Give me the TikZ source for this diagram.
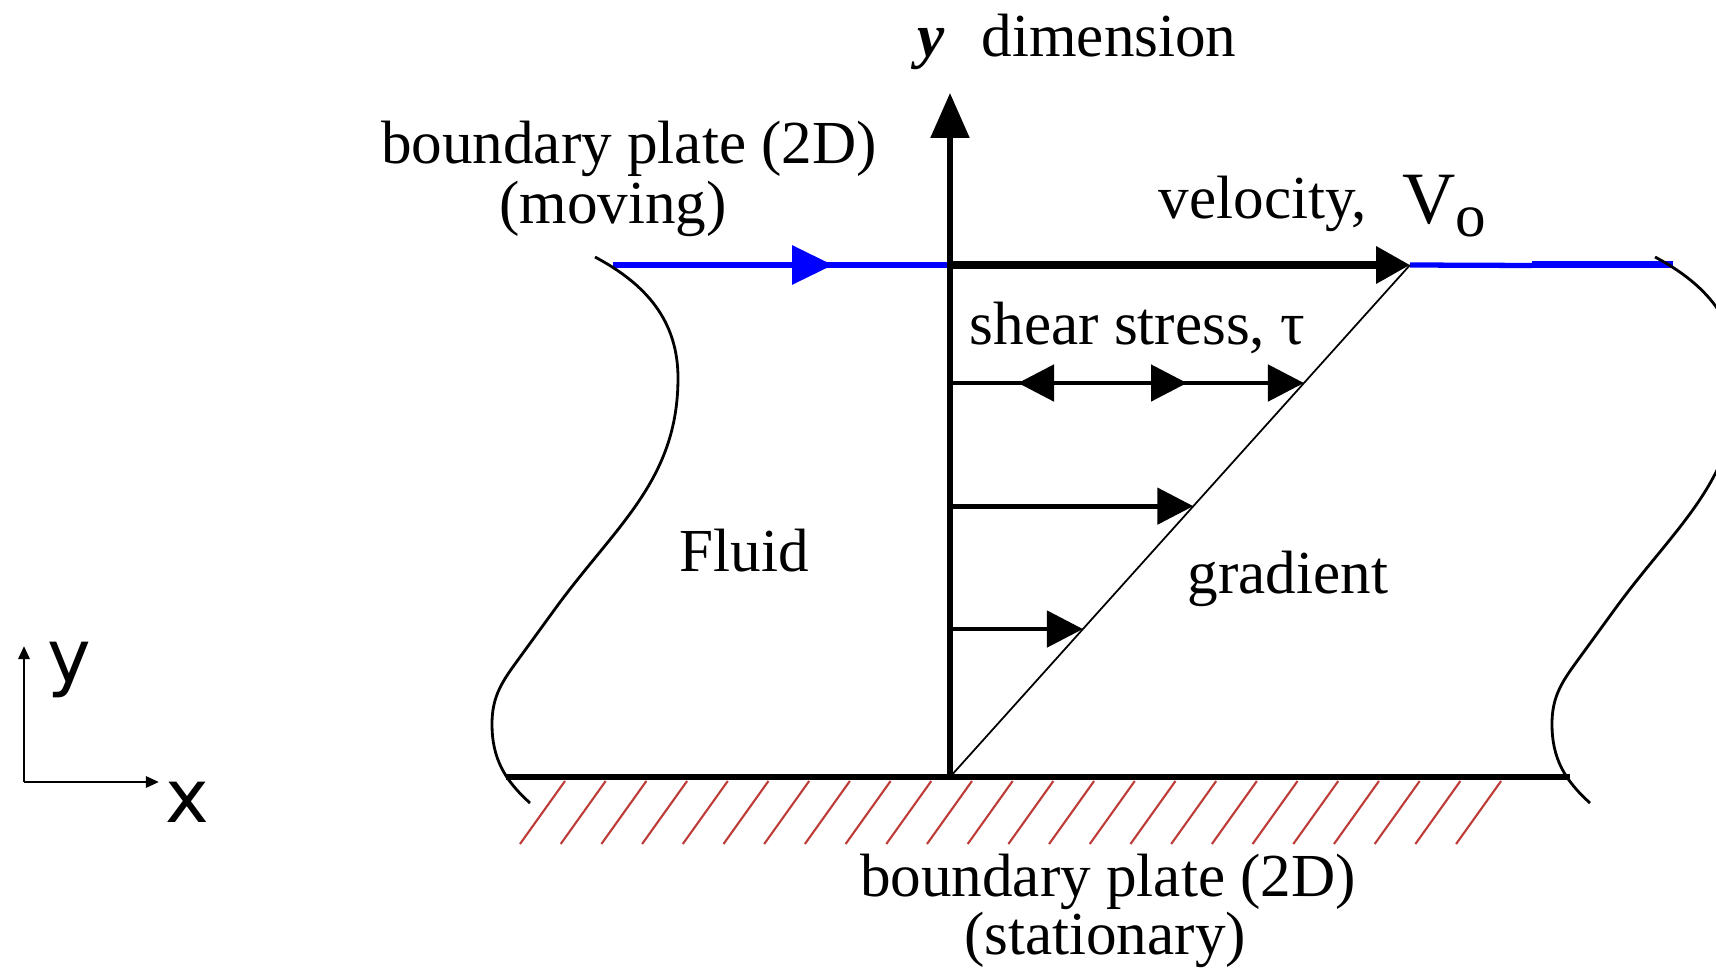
\documentclass[tikz,border=0pt]{standalone}
\usepackage{fontspec}
\setmainfont{Liberation Serif}
\newfontfamily\axfont{DejaVu Sans}
\usepackage{xcolor}
\usetikzlibrary{arrows.meta,calc,positioning}
\definecolor{hatchred}{RGB}{190,60,55}
\newcommand{\txt}{\fontsize{17.4}{17.1}\selectfont}

\begin{document}
\begin{tikzpicture}[
    lbl/.style={font=\txt, inner sep=0pt},
    shear/.style={line width=1.4pt, -{Triangle[length=3.6mm,width=3.6mm]}},
    wave/.style={line width=0.8pt},
    hatch/.style={hatchred, line width=0.6pt},
    axlbl/.style={font=\axfont\fontsize{21}{21}\selectfont, inner sep=0pt}
]
    \useasboundingbox (0,0) rectangle (17.16,9.69);
    \clip (0,0) rectangle (17.16,9.69);

    % key points
    \coordinate (O) at (9.50,1.92);
    \coordinate (T) at (14.10,7.04);
    \coordinate (topL) at (6.13,7.04);
    \coordinate (topA) at (9.50,7.04);

    % moving plate
    \draw[blue, line width=1.8pt] (topL) -- (topA);
    \draw[blue, line width=1.8pt, -{Triangle[length=4.1mm,width=3.8mm]}] (topL) -- (8.33,7.04);
    \draw[blue, line width=1.5pt] (T) -- (15.32,7.035);
    \draw[blue, line width=2.2pt] (15.32,7.045) -- (16.73,7.045);
    \draw[line width=2pt, -{Triangle[length=3.4mm,width=3.6mm]}] (topA) -- (T);

    % stationary plate and hatching
    \draw[line width=1.8pt] (5.06,1.92) -- (15.70,1.92);
    \foreach \i in {0,...,23} {
        \draw[hatch] (5.20+0.407*\i,1.25) -- ++(0.45,0.63);
    }

    % fluid edges
    \foreach \dx in {0,10.60} {
        \draw[wave, xshift=\dx cm] (5.95,7.12) to[out=-28,in=90] (6.78,5.91)
            to[out=-90,in=54] (5.55,3.60) -- (5.15,3.05)
            to[out=234,in=90] (4.92,2.45) to[out=-90,in=138] (5.30,1.66);
    }

    % y axis and profile
    \draw[line width=1.6pt, -{Triangle[length=4.5mm,width=3.8mm]}] (O) -- (9.50,8.76);
    \draw[line width=0.5pt] (O) -- (T);
    \foreach \t/\n in {0.289/1,0.529/2,0.7695/3} {
        \coordinate (g\n) at ($(O)!\t!(T)$);
        \draw[shear] (g\n -| O) -- (g\n);
    }
    \draw[shear] (g3 -| O) -- ($(g3 -| O)+(2.37,0)$);
    \draw[line width=1.4pt, {Triangle[length=3.6mm,width=3.6mm]}-] ($(g3 -| O)+(0.68,0)$) -- ++(0.6,0);

    % labels
    \node[lbl, anchor=base west] (ydim) at (9.17,9.12) {\textbf{\textit{y}}\hspace{0.6em}dimension};
    \node[lbl, anchor=base] (topplate) at (6.29,8.05) {boundary plate (2D)};
    \node[lbl, anchor=base] (moving) at (6.13,7.45) {(moving)};
    \node[lbl, anchor=base west] (vel) at (11.58,7.50) {velocity,};
    \node[anchor=base west, inner sep=0pt, font=\fontsize{21}{21}\selectfont] (vo) at (14.02,7.45) {V};
    \node[lbl, anchor=base west] (vsub) at (14.55,7.32) {o};
    \node[lbl, anchor=base west] (shearlbl) at (9.69,6.24) {shear stress, τ};
    \node[lbl, anchor=base] (fluid) at (7.44,3.98) {Fluid};
    \node[lbl, anchor=base] (grad) at (12.88,3.75) {gradient};
    \node[lbl, anchor=base] (botplate) at (11.08,0.72) {boundary plate (2D)};
    \node[lbl, anchor=base] (stat) at (11.05,0.14) {(stationary)};

    % x-y key
    \coordinate (ax0) at (0.24,1.87);
    \draw[line width=0.8pt, -{Triangle[length=1.3mm,width=1.1mm]}] (ax0) -- (0.24,3.23);
    \draw[line width=0.8pt, -{Triangle[length=1.3mm,width=1.1mm]}] (ax0) -- (1.59,1.87);
    \node[axlbl] (ylab) at (0.69,2.99) {y};
    \node[axlbl] (xlab) at (1.87,1.67) {x};
\end{tikzpicture}
\end{document}
